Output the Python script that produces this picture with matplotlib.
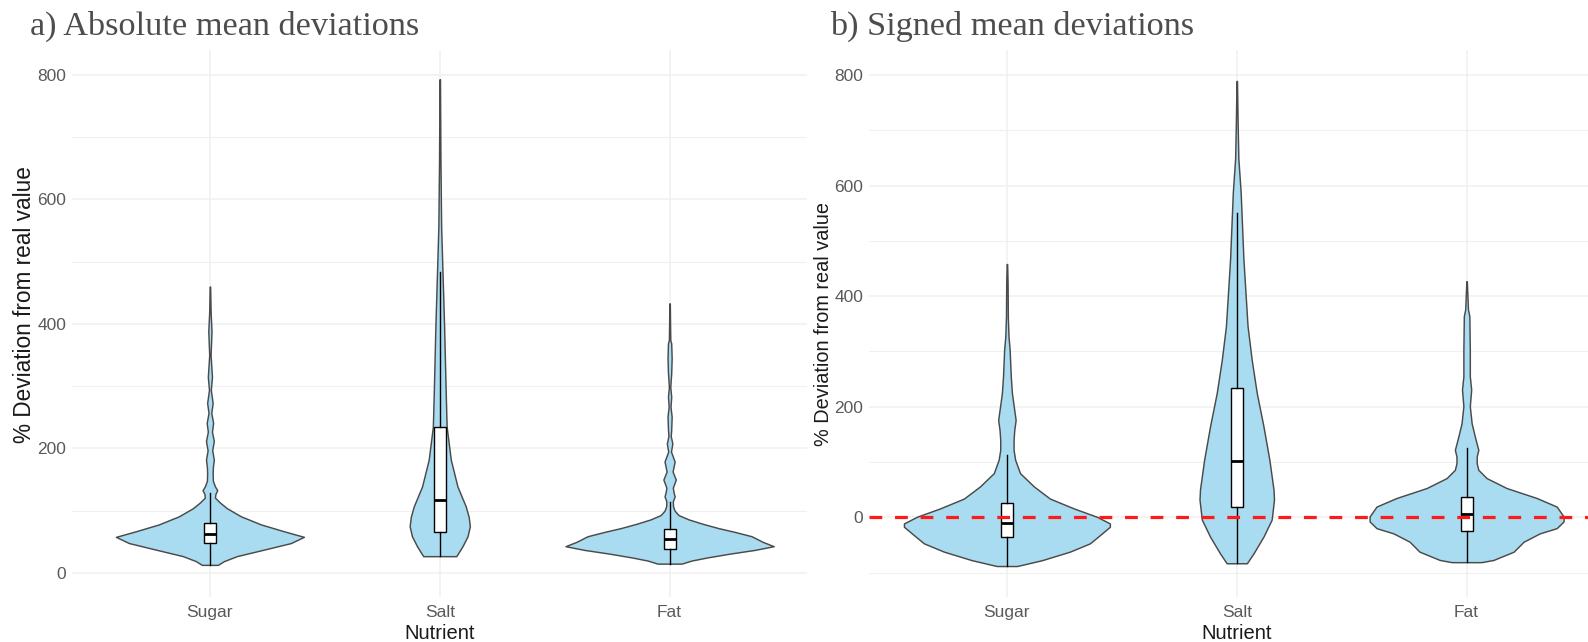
import matplotlib
matplotlib.use("Agg")
import matplotlib.pyplot as plt

# ---------------- data ----------------
nutrients = ["Sugar", "Salt", "Fat"]

# Absolute mean deviations: violin profiles (value, half-width in category units)
abs_sugar_y = [13, 19, 27, 37.5, 48, 58, 67, 78, 91, 104, 113, 121, 127, 133, 139, 148, 160, 170,
               182, 197, 212, 227, 241, 257, 273, 294, 315, 350, 388, 420, 460]
abs_sugar_w = [0.035, 0.061, 0.117, 0.235, 0.352, 0.409, 0.322, 0.222, 0.135, 0.074, 0.044, 0.022,
               0.024, 0.032, 0.022, 0.013, 0.012, 0.013, 0.017, 0.010, 0.017, 0.009, 0.014, 0.006,
               0.012, 0.004, 0.009, 0.003, 0.007, 0.003, 0.001]
abs_salt_y = [27, 43, 59, 75, 90, 107, 139, 182, 235, 289, 396, 482, 557, 664, 793]
abs_salt_w = [0.072, 0.099, 0.121, 0.131, 0.126, 0.113, 0.077, 0.048, 0.030, 0.026, 0.019, 0.012,
              0.006, 0.003, 0.001]
abs_fat_y = [15, 20, 25, 31, 37, 43, 50, 59, 66, 72, 79, 86, 93, 100, 107, 115, 123, 130, 137, 150,
             163, 179, 195, 208, 220, 230, 251, 267, 283, 299, 321, 345, 369, 374, 400, 433]
abs_fat_w = [0.052, 0.096, 0.165, 0.261, 0.370, 0.453, 0.405, 0.357, 0.283, 0.213, 0.144, 0.083,
             0.039, 0.022, 0.015, 0.014, 0.022, 0.017, 0.014, 0.027, 0.013, 0.022, 0.006, 0.012,
             0.005, 0.007, 0.009, 0.004, 0.007, 0.003, 0.007, 0.009, 0.007, 0.003, 0.002, 0.001]

# Signed mean deviations
sgn_sugar_y = [-88, -77.5, -62, -47, -32, -17, -11, 1, 16, 34, 56, 80, 104, 122, 140, 158, 176, 194,
               224, 254, 303, 327, 363, 423, 458]
sgn_sugar_w = [0.044, 0.152, 0.274, 0.361, 0.405, 0.448, 0.448, 0.392, 0.292, 0.187, 0.117, 0.057,
               0.036, 0.029, 0.029, 0.032, 0.038, 0.032, 0.022, 0.017, 0.012, 0.007, 0.004, 0.003,
               0.001]
sgn_salt_y = [-83, -65, -35, -4, 32, 50, 104, 165, 225, 285, 346, 467, 588, 649, 709, 789]
sgn_salt_w = [0.044, 0.073, 0.116, 0.152, 0.162, 0.160, 0.142, 0.116, 0.087, 0.065, 0.047, 0.029,
              0.017, 0.007, 0.004, 0.001]
sgn_fat_y = [-81, -77, -62, -44, -29, -19.5, -7.4, 1.7, 19.5, 35, 53, 71, 86, 98, 110, 122, 146, 170,
             201, 231, 255, 303, 364, 376, 427]
sgn_fat_w = [0.065, 0.117, 0.205, 0.248, 0.318, 0.392, 0.422, 0.422, 0.392, 0.305, 0.174, 0.087,
             0.051, 0.044, 0.044, 0.051, 0.036, 0.022, 0.014, 0.020, 0.014, 0.014, 0.012, 0.006,
             0.001]

# Box plot statistics (Sugar, Salt, Fat)
abs_q1 = [48, 66.4, 38]
abs_med = [62.8, 117, 54]
abs_q3 = [79.8, 235, 70.2]
abs_lo = [13, 27, 15]
abs_hi = [128, 484, 114.7]

sgn_q1 = [-36.2, 18, -24]
sgn_med = [-9.8, 101, 6.1]
sgn_q3 = [25.3, 234, 36.4]
sgn_lo = [-88, -83, -81]
sgn_hi = [112.7, 551, 125]

# ---------------- figure ----------------
W, H = 1588, 642
fig = plt.figure(figsize=(W / 100, H / 100), dpi=100)

SANS = ["Liberation Sans", "DejaVu Sans"]
SERIF = ["Liberation Serif", "DejaVu Serif"]
FILL = "#A9DCF0"
EDGE = "#4A4A4A"
GRID = "#F0F0F0"

ax_w = 735.5 / W
ax_b = (H - 597) / H
ax_h = 547 / H
ax1 = fig.add_axes([72 / W, ax_b, ax_w, ax_h])
ax2 = fig.add_axes([869 / W, ax_b, ax_w, ax_h])

panels = [
    (ax1, [(abs_sugar_y, abs_sugar_w), (abs_salt_y, abs_salt_w), (abs_fat_y, abs_fat_w)],
     (abs_q1, abs_med, abs_q3, abs_lo, abs_hi), (-38.6, 840), [100, 300, 500, 700],
     16.3, 0.534),
    (ax2, [(sgn_sugar_y, sgn_sugar_w), (sgn_salt_y, sgn_salt_w), (sgn_fat_y, sgn_fat_w)],
     (sgn_q1, sgn_med, sgn_q3, sgn_lo, sgn_hi), (-144, 845), [-100, 100, 300, 500, 700],
     14.3, 0.5),
]

for ax, violins, stats, ylim, minors, ylab_size, ylab_y in panels:
    positions = [1, 2, 3]
    for pos, (vy, vw) in zip(positions, violins):
        left = [pos - w for w in vw]
        right = [pos + w for w in vw]
        ax.fill_betweenx(vy, left, right, facecolor=FILL, edgecolor=EDGE,
                         linewidth=1.05, zorder=2)
    q1, med, q3, lo, hi = stats
    bstats = [dict(med=m, q1=a, q3=b, whislo=l, whishi=h, fliers=[])
              for a, m, b, l, h in zip(q1, med, q3, lo, hi)]
    ax.bxp(bstats, positions=positions, widths=0.053, showcaps=False, showfliers=False,
           patch_artist=True, manage_ticks=False,
           boxprops=dict(facecolor="white", edgecolor="black", linewidth=1.0),
           medianprops=dict(color="black", linewidth=2.0),
           whiskerprops=dict(color="black", linewidth=1.0),
           zorder=3)

    ax.set_xlim(0.4, 3.6)
    ax.set_ylim(*ylim)
    ax.set_xticks(positions)
    ax.set_xticklabels(nutrients)
    ax.set_yticks([0, 200, 400, 600, 800])
    ax.set_yticks(minors, minor=True)
    ax.grid(True, which="major", color=GRID, linewidth=1.1, zorder=0)
    ax.grid(True, which="minor", axis="y", color=GRID, linewidth=0.8, zorder=0)
    ax.set_axisbelow(True)
    for s in ax.spines.values():
        s.set_visible(False)
    ax.tick_params(axis="both", which="both", length=0)
    ax.tick_params(axis="x", pad=6, labelsize=12.5, labelcolor="#5A5A5A")
    ax.tick_params(axis="y", pad=4, labelsize=12.5, labelcolor="#5A5A5A")
    for lab in ax.get_xticklabels() + ax.get_yticklabels():
        lab.set_fontfamily(SANS)
    ax.set_xlabel("Nutrient", fontsize=14.5, family=SANS, color="#1A1A1A", labelpad=2.5)
    ax.set_ylabel("% Deviation from real value", fontsize=ylab_size, family=SANS,
                  color="#1A1A1A")
    ax.yaxis.set_label_coords(-0.049, ylab_y)

ax2.axhline(0, color="#FF1A1A", linewidth=2.3, linestyle=(0, (4, 4)), zorder=5)

fig.text(30 / W, 1 - 26 / H, "a) Absolute mean deviations", family=SERIF, fontsize=24.7,
         color="#4D4D4D", ha="left", va="center")
fig.text(830 / W, 1 - 26 / H, "b) Signed mean deviations", family=SERIF, fontsize=24.7,
         color="#4D4D4D", ha="left", va="center")

fig.savefig("out.png", dpi=100)
